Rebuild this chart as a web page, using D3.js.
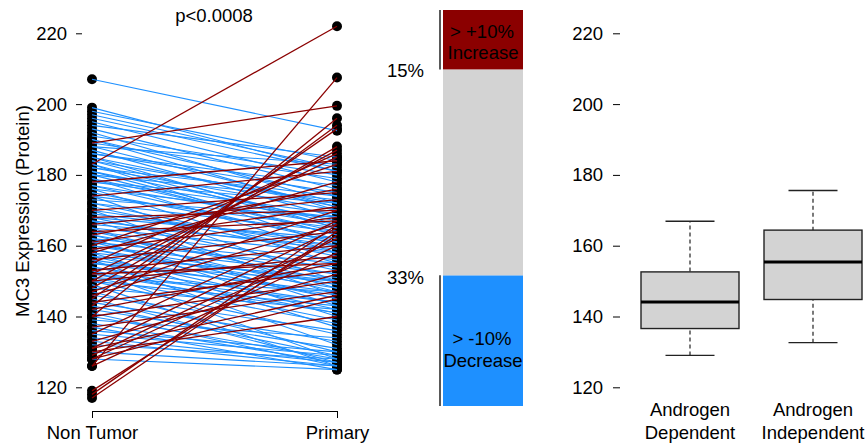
<!DOCTYPE html>
<html>
<head>
<meta charset="utf-8">
<script src="https://cdn.jsdelivr.net/npm/d3@7"></script>
<style>
  body { margin: 0; background: #fff; }
  svg text { font-family: "Liberation Sans", Arial, sans-serif; font-size: 18.5px; fill: #000; }
</style>
</head>
<body>
<svg width="865" height="444"></svg>
<script>
// paired samples, same index = same patient
var nonTumor = [
  207, 199, 198, 197, 196, 195, 194, 193, 192, 191, 190, 190, 189, 188, 188, 187, 186, 186,
  185, 185, 184, 184, 183, 183, 182, 182, 181, 181, 180, 180, 179, 179, 178, 178, 177, 177,
  176, 176, 175, 174, 174, 173, 172, 172, 171, 170, 170, 169, 168, 168, 167, 167, 166, 165,
  165, 164, 164, 163, 163, 162, 162, 161, 161, 160, 160, 159, 159, 158, 158, 157, 157, 156,
  156, 155, 155, 154, 154, 153, 153, 152, 152, 151, 151, 150, 150, 149, 148, 147, 146, 145,
  144, 143, 142, 141, 140, 139, 138, 137, 136, 135, 134, 133, 132, 130, 128,
  // increases
  183, 126, 189, 140, 118, 117, 119, 143, 145, 148, 150, 152, 155, 160, 158, 163, 166, 170,
  174, 178, 168, 131, 129, 128, 126, 135, 140, 142, 144, 146, 147, 150, 153, 156, 159, 161,
  164, 130, 131, 128, 133, 137, 152
];
var primary = [
  192.5, 181, 184, 182, 181, 178, 185, 176, 172, 180, 170, 174, 179, 171, 183, 168, 175, 177,
  165, 171, 172, 166, 160, 165, 170, 174, 167, 163, 163, 173, 158, 164, 172, 169, 166, 161,
  155, 168, 162, 150, 165, 168, 164, 158, 157, 146, 160, 161, 153, 162, 148, 159, 160, 143,
  158, 156, 150, 152, 147, 140, 155, 154, 145, 149, 152, 145, 148, 137, 150, 151, 142, 132,
  146, 147, 150, 141, 144, 128, 139, 144, 141, 138, 147, 135, 143, 126, 142, 130, 136, 127,
  133, 129, 131, 126, 128, 134, 127, 125, 130, 129, 127, 126, 128, 126, 125,
  // increases
  222, 207.5, 199.5, 196, 166, 164, 163, 194, 193, 188, 187, 185, 186, 183, 178, 176, 173, 175,
  181, 184, 170, 165, 162, 160, 158, 167, 150, 155, 153, 166, 170, 157, 160, 164, 168, 171,
  167, 140, 146, 145, 152, 147, 155
];
var groups = ["Non Tumor", "Primary"];
var yTicks = [120, 140, 160, 180, 200, 220];

// share of patients with > 10% change
var barParts = ["decrease", "none", "increase"];
var barShares = [33, 52, 15];
var barColors = ["#1E90FF", "#D3D3D3", "#8B0000"];

// boxplot stats: [lower whisker, Q1, median, Q3, upper whisker]
var boxGroups = ["Androgen Dependent", "Androgen Independent"];
var boxStats = [
  [129, 136.6, 144.1, 152.6, 166.9],
  [132.6, 144.8, 155.4, 164.4, 175.6]
];

var svg = d3.select("svg");

var y = d3.scaleLinear().domain([120, 220]).range([387.3, 33.3]);

// ---- left panel: paired lines ----
var x = d3.scalePoint().domain(groups).range([92, 337]).padding(0);

var left = svg.append("g");

left.append("g")
    .attr("transform", "translate(82,0)")
    .call(d3.axisLeft(y).tickValues(yTicks).tickSize(6).tickPadding(9))
    .call(function(g) { g.select(".domain").remove(); })
    .call(function(g) {
      g.selectAll("line").attr("stroke", "#000");
      g.selectAll("text").attr("font-size", null).attr("font-family", null);
    });

left.append("g")
    .attr("transform", "translate(0,411)")
    .call(d3.axisBottom(x).tickSize(7).tickSizeOuter(7).tickPadding(7.5))
    .call(function(g) {
      g.selectAll("line, path").attr("stroke", "#000");
      g.selectAll("text").attr("font-size", null).attr("font-family", null);
    });

var pairs = nonTumor.map(function(v, i) { return { a: v, b: primary[i], up: primary[i] > v }; });

var pts = left.append("g");
pairs.forEach(function(d) {
  pts.append("circle").attr("cx", x("Non Tumor")).attr("cy", y(d.a)).attr("r", 5).attr("fill", "#000");
  pts.append("circle").attr("cx", x("Primary")).attr("cy", y(d.b)).attr("r", 5).attr("fill", "#000");
});

// blue first, red drawn on top
left.append("g")
  .selectAll("line")
  .data(pairs.filter(function(d) { return !d.up; }).concat(pairs.filter(function(d) { return d.up; })))
  .enter().append("line")
    .attr("x1", x("Non Tumor"))
    .attr("x2", x("Primary"))
    .attr("y1", function(d) { return y(d.a); })
    .attr("y2", function(d) { return y(d.b); })
    .attr("stroke", function(d) { return d.up ? "#8B0000" : "#1E90FF"; })
    .attr("stroke-width", function(d) { return d.up ? 1.3 : 1.1; });

left.append("text")
    .attr("x", 214).attr("y", 21.5)
    .attr("text-anchor", "middle")
    .text("p<0.0008");

left.append("text")
    .attr("transform", "translate(28.5,211) rotate(-90)")
    .attr("text-anchor", "middle")
    .text("MC3 Expression (Protein)");

// ---- middle panel: stacked bar ----
var yb = d3.scaleLinear().domain([0, 100]).range([406, 10]);
var stack = [];
var acc = 0;
barShares.forEach(function(s, i) {
  stack.push({ key: barParts[i], lo: acc, hi: acc + s, color: barColors[i] });
  acc += s;
});

var mid = svg.append("g");
mid.selectAll("rect")
  .data(stack)
  .enter().append("rect")
    .attr("x", 443)
    .attr("width", 80)
    .attr("y", function(d) { return yb(d.hi); })
    .attr("height", function(d) { return yb(d.lo) - yb(d.hi); })
    .attr("fill", function(d) { return d.color; });

var inc = stack[2], dec = stack[0];
mid.append("line").attr("x1", 440).attr("x2", 440).attr("y1", yb(inc.hi)).attr("y2", yb(inc.lo))
    .attr("stroke", "#222").attr("stroke-width", 1.5);
mid.append("line").attr("x1", 440).attr("x2", 440).attr("y1", yb(dec.hi)).attr("y2", yb(dec.lo))
    .attr("stroke", "#222").attr("stroke-width", 1.5);

mid.append("text").attr("x", 424).attr("y", yb(inc.lo) + 8).attr("text-anchor", "end")
    .text(inc.hi - inc.lo + "%");
mid.append("text").attr("x", 424).attr("y", yb(dec.hi) + 9).attr("text-anchor", "end")
    .text(dec.hi - dec.lo + "%");

mid.append("text").attr("x", 482).attr("y", 37.5).attr("text-anchor", "middle").text("> +10%");
mid.append("text").attr("x", 483).attr("y", 58.5).attr("text-anchor", "middle").text("Increase");
mid.append("text").attr("x", 482).attr("y", 344.5).attr("text-anchor", "middle").text("> -10%");
mid.append("text").attr("x", 483).attr("y", 366.5).attr("text-anchor", "middle").text("Decrease");

// ---- right panel: boxplots ----
var xb = d3.scalePoint().domain(boxGroups).range([690, 813]).padding(0);
var half = 49;

var right = svg.append("g");
right.append("g")
    .attr("transform", "translate(620,0)")
    .call(d3.axisLeft(y).tickValues(yTicks).tickSize(7).tickPadding(10))
    .call(function(g) { g.select(".domain").remove(); })
    .call(function(g) {
      g.selectAll("line").attr("stroke", "#000");
      g.selectAll("text").attr("font-size", null).attr("font-family", null);
    });

var box = right.selectAll("g.box")
  .data(boxGroups.map(function(k, i) { return { key: k, s: boxStats[i] }; }))
  .enter().append("g").attr("class", "box");

box.append("line")
    .attr("x1", function(d) { return xb(d.key); })
    .attr("x2", function(d) { return xb(d.key); })
    .attr("y1", function(d) { return y(d.s[0]); })
    .attr("y2", function(d) { return y(d.s[4]); })
    .attr("stroke", "#222").attr("stroke-width", 1.2).attr("stroke-dasharray", "4,3");

[0, 4].forEach(function(j) {
  box.append("line")
      .attr("x1", function(d) { return xb(d.key) - half / 2; })
      .attr("x2", function(d) { return xb(d.key) + half / 2; })
      .attr("y1", function(d) { return y(d.s[j]); })
      .attr("y2", function(d) { return y(d.s[j]); })
      .attr("stroke", "#222").attr("stroke-width", 1.3);
});

box.append("rect")
    .attr("x", function(d) { return xb(d.key) - half; })
    .attr("width", half * 2)
    .attr("y", function(d) { return y(d.s[3]); })
    .attr("height", function(d) { return y(d.s[1]) - y(d.s[3]); })
    .attr("fill", "#D3D3D3").attr("stroke", "#222").attr("stroke-width", 1.4);

box.append("line")
    .attr("x1", function(d) { return xb(d.key) - half; })
    .attr("x2", function(d) { return xb(d.key) + half; })
    .attr("y1", function(d) { return y(d.s[2]); })
    .attr("y2", function(d) { return y(d.s[2]); })
    .attr("stroke", "#000").attr("stroke-width", 3.2);

box.each(function(d) {
  var words = d.key.split(" ");
  var g = d3.select(this);
  g.append("text").attr("x", xb(d.key)).attr("y", 415.5).attr("text-anchor", "middle").text(words[0]);
  g.append("text").attr("x", xb(d.key)).attr("y", 438.5).attr("text-anchor", "middle").text(words[1]);
});
</script>
</body>
</html>
